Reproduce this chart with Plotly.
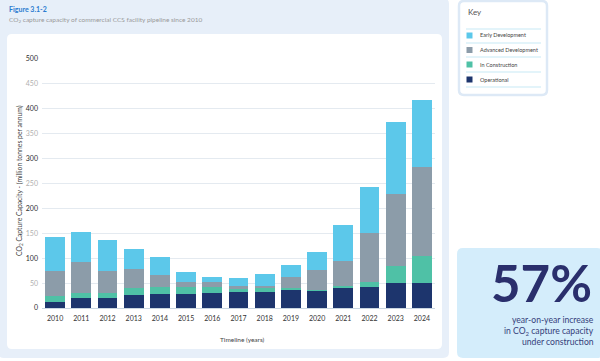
import plotly.graph_objects as go

years = [str(y) for y in range(2010, 2025)]
operational = [13, 20, 20, 27, 28, 29, 30, 32, 32, 37, 35.5, 41.5, 43, 50, 51]
in_construction = [12, 10, 10, 12.5, 14, 13, 12, 6, 8, 2.5, 1.5, 3.5, 9, 34, 53]
advanced = [50, 62, 44, 38.5, 25, 10, 10, 7, 5, 23, 39, 49, 99, 144, 179]
early = [67, 60, 63, 40, 35, 21, 11, 15, 23, 23, 36, 73, 91, 146, 135]

series_names = ["Operational", "In Construction", "Advanced Development", "Early Development"]
series_values = [operational, in_construction, advanced, early]
colors = ["#1d356d", "#4fc1a6", "#8c9ca9", "#5cc8ea"]

ytick_vals = list(range(0, 501, 50))

W, H = 600, 361
ML, MR, MT, MB = 42, 165, 59, 53
PW, PH = W - ML - MR, H - MT - MB
FONT = "Lato"


def px(x):
    return (x - ML) / PW


def py(y):
    return (H - MB - y) / PH


def rrect_path(x0, y0, x1, y1, r):
    pts = [
        ("M", [(x0 + r, y0)]),
        ("L", [(x1 - r, y0)]),
        ("Q", [(x1, y0), (x1, y0 + r)]),
        ("L", [(x1, y1 - r)]),
        ("Q", [(x1, y1), (x1 - r, y1)]),
        ("L", [(x0 + r, y1)]),
        ("Q", [(x0, y1), (x0, y1 - r)]),
        ("L", [(x0, y0 + r)]),
        ("Q", [(x0, y0), (x0 + r, y0)]),
    ]
    s = ""
    for cmd, ps in pts:
        s += cmd + " " + " ".join(f"{px(a):.5f},{py(b):.5f}" for a, b in ps) + " "
    return s + "Z"


fig = go.Figure()
for name, vals, col in zip(series_names, series_values, colors):
    fig.add_trace(go.Bar(x=years, y=vals, name=name, marker=dict(color=col, line=dict(width=0)),
                         showlegend=False))

tick_text = []
for v in ytick_vals:
    c = "#2e2e2e" if v % 100 == 0 else "#b0b0b0"
    tick_text.append(f"<span style='color:{c}'>{v}</span>")

shapes = []
shapes.append(dict(type="path", path=rrect_path(-2, -2, 449, 358, 6), xref="paper", yref="paper",
                   fillcolor="#e7eff9", line=dict(width=0), layer="below"))
shapes.append(dict(type="path", path=rrect_path(7, 34, 442, 349, 5), xref="paper", yref="paper",
                   fillcolor="#ffffff", line=dict(width=0), layer="below"))
shapes.append(dict(type="path", path=rrect_path(459, 1, 547, 95, 5), xref="paper", yref="paper",
                   fillcolor="#ffffff", line=dict(width=2.5, color="#dde9f6"), layer="below"))
shapes.append(dict(type="path", path=rrect_path(457, 248, 603, 358, 6), xref="paper", yref="paper",
                   fillcolor="#d4edfb", line=dict(width=0), layer="below"))

for yl in [29, 43, 57, 72, 87]:
    shapes.append(dict(type="line", x0=px(466), x1=px(541), y0=py(yl), y1=py(yl), xref="paper", yref="paper",
                       line=dict(color="#b9e3f2", width=0.8)))

annotations = []
key_names = ["Early Development", "Advanced Development", "In Construction", "Operational"]
key_colors = ["#5cc8ea", "#8c9ca9", "#4fc1a6", "#1d356d"]
key_y = [35.5, 50, 64.5, 79.5]
for nm, col, yy in zip(key_names, key_colors, key_y):
    shapes.append(dict(type="rect", x0=px(466.5), x1=px(472.5), y0=py(yy - 3), y1=py(yy + 3),
                       xref="paper", yref="paper", fillcolor=col, line=dict(width=0)))
    annotations.append(dict(x=px(477.5), y=py(yy), xref="paper", yref="paper", text=nm, showarrow=False,
                            xanchor="left", yanchor="middle", font=dict(family=FONT, size=5.5, color="#444444")))

annotations.append(dict(x=px(466), y=py(12), xref="paper", yref="paper", text="Key", showarrow=False,
                        xanchor="left", yanchor="middle", font=dict(family=FONT, size=8, color="#555555")))

annotations.append(dict(x=px(7), y=py(9.5), xref="paper", yref="paper", text="<b>Figure 3.1-2</b>",
                        showarrow=False, xanchor="left", yanchor="middle",
                        font=dict(family=FONT, size=7, color="#2a7bd0")))
annotations.append(dict(x=px(7), y=py(19.5), xref="paper", yref="paper",
                        text="CO<sub>2</sub> capture capacity of commercial CCS facility pipeline since 2010",
                        showarrow=False, xanchor="left", yanchor="middle",
                        font=dict(family=FONT, size=6.5, color="#9a9a9a")))

annotations.append(dict(x=px(19), y=py(181), xref="paper", yref="paper", textangle=-90,
                        text="CO<sub>2</sub> Capture Capacity - (million tonnes per annum)",
                        showarrow=False, xanchor="center", yanchor="middle",
                        font=dict(family=FONT, size=6.8, color="#444444")))
annotations.append(dict(x=px(242), y=py(339.5), xref="paper", yref="paper", text="Timeline (years)",
                        showarrow=False, xanchor="center", yanchor="middle",
                        font=dict(family=FONT, size=6.5, color="#444444")))

annotations.append(dict(x=px(594), y=py(282), xref="paper", yref="paper", text="<b>57%</b>",
                        showarrow=False, xanchor="right", yanchor="middle",
                        font=dict(family=FONT, size=51, color="#2a2f6c")))
stat_lines = ["year-on-year increase", "in CO<sub>2</sub> capture capacity", "under construction"]
stat_y = [320, 331, 342]
for t, yy in zip(stat_lines, stat_y):
    annotations.append(dict(x=px(596), y=py(yy), xref="paper", yref="paper", text=t,
                            showarrow=False, xanchor="right", yanchor="middle", align="right",
                            font=dict(family=FONT, size=8.6, color="#35407a")))

fig.update_layout(
    width=W, height=H,
    margin=dict(l=ML, r=MR, t=MT, b=MB, pad=0),
    paper_bgcolor="#ffffff",
    plot_bgcolor="rgba(0,0,0,0)",
    barmode="stack",
    bargap=0.24,
    font=dict(family=FONT, size=7, color="#333333"),
    shapes=shapes,
    annotations=annotations,
    xaxis=dict(type="category", showgrid=False, showline=True, linecolor="#c9d6e2", linewidth=1,
               ticks="", tickfont=dict(family=FONT, size=7, color="#333333"), ticklabelstandoff=4),
    yaxis=dict(range=[0, 500], tickvals=ytick_vals, ticktext=tick_text, showgrid=True,
               gridcolor="#e4eaf0", gridwidth=1, zeroline=False, ticks="", showline=False,
               tickfont=dict(family=FONT, size=7), ticklabelstandoff=3),
)

fig.write_html("out.html", config={"displayModeBar": False},
               post_script="document.body.style.margin='0';document.body.style.overflow='hidden';")
